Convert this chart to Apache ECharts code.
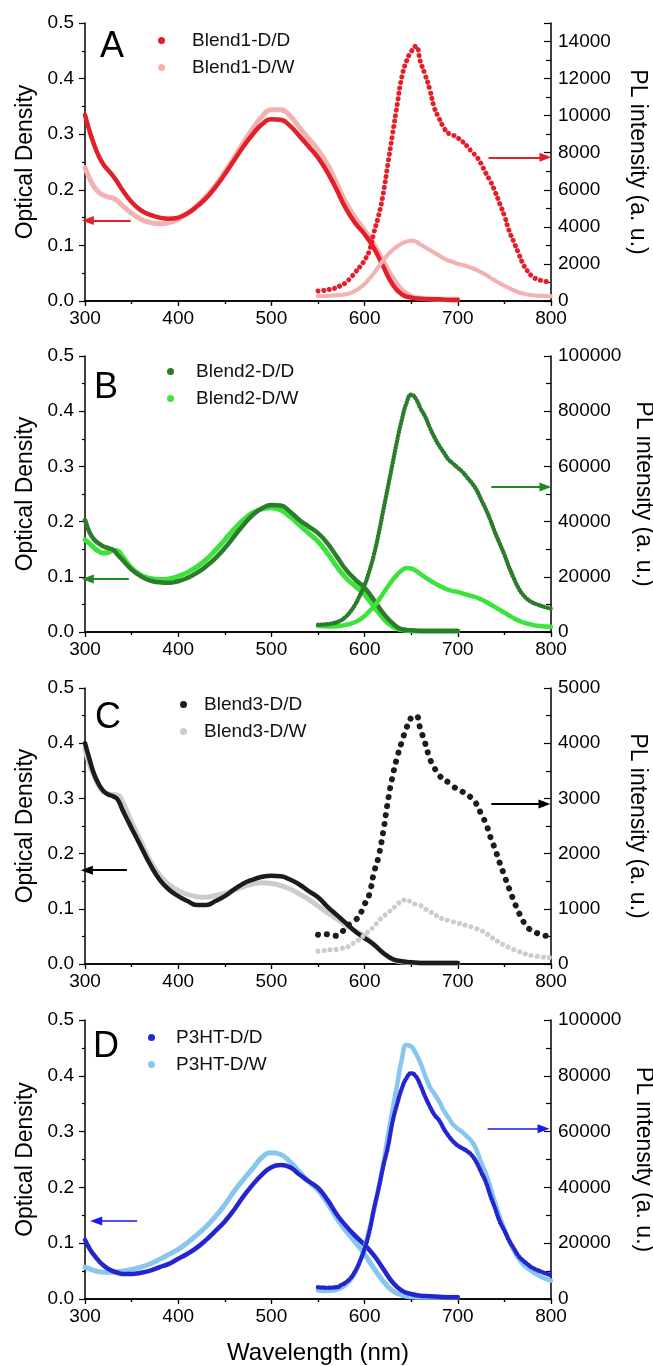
<!DOCTYPE html>
<html><head><meta charset="utf-8">
<script src="https://cdn.jsdelivr.net/npm/echarts@6/dist/echarts.min.js"></script>
<style>html,body{margin:0;padding:0;background:#fff;overflow:hidden}#c{width:653px;height:1366px}</style>
</head><body><div id="c"></div>
<script>
// ---------- data ----------
const wlAbs = [300,305,310,315,320,325,330,335,340,350,360,370,380,390,400,410,420,430,440,450,460,470,480,490,500,510,520,530,540,550,560,570,580,590,600,610,620,630,640,650,660,670,680,690,700];
const wlPL = [550,555,560,565,570,575,580,585,590,595,600,605,610,615,620,625,630,635,640,645,650,655,660,665,670,675,680,685,690,695,700,705,710,715,720,725,730,735,740,745,750,755,760,765,770,775,780,785,790,795,800];

const absA_DD = [0.335,0.305,0.28,0.26,0.245,0.235,0.225,0.213,0.2,0.178,0.163,0.155,0.15,0.148,0.15,0.158,0.17,0.185,0.205,0.228,0.253,0.278,0.3,0.318,0.327,0.326,0.315,0.297,0.278,0.258,0.232,0.2,0.166,0.14,0.12,0.095,0.062,0.03,0.012,0.006,0.004,0.003,0.003,0.002,0.002];
const absA_DW = [0.24,0.22,0.205,0.195,0.19,0.187,0.185,0.18,0.172,0.158,0.147,0.141,0.139,0.141,0.147,0.157,0.171,0.188,0.208,0.232,0.258,0.285,0.31,0.332,0.344,0.344,0.333,0.312,0.292,0.272,0.246,0.212,0.177,0.15,0.127,0.102,0.072,0.042,0.02,0.009,0.005,0.004,0.003,0.003,0.003];
const plA_DD = [540,560,600,650,720,850,1000,1250,1550,1850,2200,2700,3700,4600,5800,7400,9000,10600,12100,12950,13450,13750,12900,12200,11400,10400,9850,9350,9050,8950,8800,8600,8350,8050,7800,7400,6900,6450,5900,5250,4600,3800,3200,2600,2000,1600,1320,1180,1100,1050,1000];
const plA_DW = [270,270,280,290,310,330,370,430,550,720,920,1200,1500,1850,2200,2500,2750,2950,3100,3200,3250,3200,3050,2900,2750,2600,2450,2300,2180,2100,2000,1950,1870,1780,1680,1550,1420,1250,1100,950,820,700,580,480,400,350,310,290,280,270,260];

const absB_DD = [0.203,0.18,0.167,0.16,0.155,0.152,0.149,0.14,0.131,0.113,0.101,0.093,0.09,0.089,0.092,0.098,0.107,0.119,0.134,0.152,0.173,0.194,0.212,0.224,0.23,0.229,0.218,0.203,0.191,0.179,0.161,0.137,0.113,0.095,0.08,0.058,0.034,0.016,0.005,0.003,0.002,0.002,0.002,0.002,0.002];
const absB_DW = [0.167,0.16,0.152,0.146,0.143,0.144,0.148,0.147,0.137,0.116,0.103,0.097,0.095,0.096,0.101,0.108,0.118,0.131,0.148,0.167,0.186,0.203,0.216,0.223,0.225,0.221,0.209,0.194,0.179,0.164,0.143,0.119,0.098,0.083,0.068,0.046,0.025,0.01,0.004,0.002,0.002,0.002,0.002,0.002,0.002];
const plB_DD = [2600,2700,2800,3100,3500,4300,5600,7500,10000,13300,17000,22000,28000,35500,44000,52500,61000,69500,77000,83000,86000,84500,81000,78000,74000,70500,67500,65000,62500,61000,59500,58000,56000,54000,51500,48000,44500,40500,36000,32000,28000,23500,19500,16000,13500,11800,10700,10000,9400,8900,8400];
const plB_DW = [2200,2100,2000,2000,2100,2300,2600,3000,3600,4500,5800,7500,9200,11500,14000,16500,18800,20800,22300,23200,23000,22200,21000,19800,18700,17700,16800,16000,15300,14800,14500,14000,13500,13000,12500,11800,11000,10000,9000,8000,7000,6000,5000,4200,3500,3000,2600,2300,2100,2000,1900];

const absC_DD = [0.4,0.37,0.343,0.325,0.313,0.307,0.304,0.298,0.28,0.246,0.213,0.18,0.153,0.135,0.123,0.114,0.107,0.107,0.114,0.123,0.135,0.146,0.153,0.158,0.16,0.159,0.153,0.144,0.132,0.121,0.104,0.089,0.074,0.059,0.047,0.035,0.02,0.009,0.005,0.003,0.002,0.002,0.002,0.002,0.002];
const absC_DW = [0.39,0.36,0.34,0.322,0.312,0.308,0.307,0.306,0.295,0.257,0.222,0.187,0.161,0.144,0.133,0.126,0.122,0.121,0.124,0.128,0.134,0.14,0.145,0.147,0.146,0.142,0.136,0.127,0.117,0.105,0.093,0.082,0.07,0.06,0.05,0.036,0.02,0.008,0.004,0.003,0.002,0.002,0.002,0.002,0.002];
const plC_DD = [530,520,540,520,510,560,680,730,790,900,1080,1260,1650,1950,2400,2950,3400,3750,4030,4280,4460,4500,4250,4000,3720,3550,3420,3340,3290,3220,3160,3120,3070,3000,2900,2720,2550,2300,2080,1830,1600,1370,1150,950,780,660,600,560,530,510,500];
const plC_DW = [230,240,250,260,265,280,300,340,400,450,530,600,680,780,860,930,1000,1080,1140,1165,1120,1080,1060,1000,950,900,850,810,790,765,740,720,690,670,640,610,560,500,440,390,340,300,260,230,200,170,150,140,130,120,115];

const absD_DD = [0.106,0.09,0.078,0.068,0.06,0.054,0.05,0.047,0.045,0.045,0.047,0.051,0.057,0.063,0.072,0.081,0.092,0.106,0.122,0.139,0.16,0.184,0.205,0.223,0.236,0.24,0.236,0.223,0.211,0.199,0.178,0.152,0.131,0.113,0.097,0.078,0.054,0.03,0.015,0.009,0.006,0.005,0.004,0.003,0.003];
const absD_DW = [0.057,0.054,0.051,0.049,0.048,0.048,0.048,0.049,0.05,0.053,0.057,0.063,0.071,0.08,0.089,0.101,0.115,0.13,0.148,0.169,0.193,0.214,0.234,0.254,0.262,0.259,0.246,0.228,0.21,0.195,0.172,0.145,0.122,0.102,0.08,0.055,0.032,0.015,0.007,0.004,0.003,0.003,0.003,0.003,0.003];
const plD_DD = [4200,4100,4000,4100,4200,5000,6000,7500,10000,13500,18000,24000,32300,39500,47500,54500,63500,70000,75500,79200,80900,79800,76500,72500,69000,66000,64000,61000,58500,56500,55000,54000,53000,51500,49000,45500,42000,37000,32500,27800,24500,21000,18200,15500,13800,12400,11200,10400,9700,9100,8500];
const plD_DW = [3000,2900,2900,3000,3300,4000,5200,7000,9500,13500,18500,25000,31500,40000,48500,58500,68000,77000,86000,91000,90500,88000,84500,80000,76000,73500,70800,67500,65000,62500,61000,59800,58200,56500,53500,49000,45000,40000,34500,29500,25000,21000,17500,14500,12500,11000,9800,8700,7800,7100,6600];

const panelLetters = ['A','B','C','D'];
const legendNames = [['Blend1-D/D','Blend1-D/W'],['Blend2-D/D','Blend2-D/W'],['Blend3-D/D','Blend3-D/W'],['P3HT-D/D','P3HT-D/W']];
const rightMax = [15000,100000,5000,100000];
const rightStep = [2000,20000,1000,20000];
// arrow annotations (data coords): [x1,y1,x2,y2]
const arrowsLeft = [[349,0.145,303,0.145],[347,0.096,303,0.096],[345,0.17,302,0.17],[356,0.14,312,0.14]];
const arrowsRight = [[733,7750,794,7750],[736,52500,794,52500],[736,2900,793,2900],[732,61000,792,61000]];

// ---------- styling ----------
const FONT = 'Liberation Sans, Arial, sans-serif';
const grids = [
  {top:23,height:278},{top:356,height:276},{top:688,height:276},{top:1020,height:279}
];
const colors = [
  {dd:'#e3202a', dw:'#f3b2b2', arrow:'#e3202a'},
  {dd:'#2c7c2c', dw:'#3de33d', arrow:'#1f8a1f'},
  {dd:'#1c1c1c', dw:'#cccccc', arrow:'#000000'},
  {dd:'#2525cf', dw:'#86c6ef', arrow:'#1a1aee'}
];
const plStyle = [
  {dd:{w:5,dash:[0.1,5.5]}, dw:{w:4.5,dash:[0.1,3]}},
  {dd:{w:4.5,dash:[0.1,3]}, dw:{w:4.5,dash:null}},
  {dd:{w:6,dash:[0.1,9]}, dw:{w:5,dash:[0.1,6]}},
  {dd:{w:4.5,dash:[0.1,2.5]}, dw:{w:4.5,dash:null}}
];
const arrowWidth = [2,2,2,1.5];
const legendPos = [
  {left:158,top:31,pad:22},{left:167,top:362,pad:17},{left:180,top:695,pad:12},{left:148,top:1028,pad:16}
];
const letterPos = [{left:100,top:29},{left:94,top:370},{left:95,top:700},{left:93,top:1029}];

const absData = [[absA_DD,absA_DW],[absB_DD,absB_DW],[absC_DD,absC_DW],[absD_DD,absD_DW]];
const plData = [[plA_DD,plA_DW],[plB_DD,plB_DW],[plC_DD,plC_DW],[plD_DD,plD_DW]];

function pairs(xs, ys){ return xs.map((x,i)=>[x,ys[i]]); }

const option = {
  animation:false,
  backgroundColor:'#fff',
  textStyle:{fontFamily:FONT},
  grid:[], xAxis:[], yAxis:[], series:[], legend:[], title:[]
};

const axisLine = {show:true, lineStyle:{color:'#000', width:1.5}};
for(let i=0;i<4;i++){
  option.grid.push({left:85, right:102, top:grids[i].top, height:grids[i].height, containLabel:false, outerBoundsMode:'none'});
  // bottom x
  option.xAxis.push({type:'value', gridIndex:i, position:'bottom', min:300, max:800, interval:100,
    axisLine, axisTick:{show:true, length:5, lineStyle:{color:'#000',width:1.2}},
    minorTick:{show:true, splitNumber:2, length:3, lineStyle:{color:'#000',width:1.2}},
    splitLine:{show:false}, minorSplitLine:{show:false},
    axisLabel:{fontSize:19, color:'#000', margin:8, fontFamily:FONT},
    name: i===3 ? 'Wavelength (nm)' : '', nameLocation:'middle', nameGap:42,
    nameTextStyle:{fontSize:24, color:'#000', fontFamily:FONT}
  });
  // top x
  option.xAxis.push({type:'value', gridIndex:i, position:'top', min:300, max:800, interval:100,
    axisLine, axisTick:{show:true, inside:true, length:4, lineStyle:{color:'#000',width:1.2}},
    minorTick:{show:true, splitNumber:2, length:3, lineStyle:{color:'#000',width:1.2}},
    splitLine:{show:false}, axisLabel:{show:false}
  });
  // left y
  option.yAxis.push({type:'value', gridIndex:i, position:'left', min:0, max:0.5, interval:0.1,
    axisLine, axisTick:{show:true, length:6, lineStyle:{color:'#000',width:1.2}},
    minorTick:{show:true, splitNumber:2, length:3, lineStyle:{color:'#000',width:1.2}},
    splitLine:{show:false},
    axisLabel:{fontSize:19, color:'#000', margin:11, fontFamily:FONT, formatter:v=>v.toFixed(1)},
    name:'Optical Density', nameLocation:'middle', nameGap:47,
    nameTextStyle:{fontSize:23, color:'#000', fontFamily:FONT}
  });
  // right y
  const step = rightStep[i];
  option.yAxis.push({type:'value', gridIndex:i, position:'right', min:0, max:rightMax[i], interval:step,
    axisLine, axisTick:{show:true, inside:true, length:7, lineStyle:{color:'#000',width:1.2}},
    minorTick:{show:true, splitNumber:2, length:5, lineStyle:{color:'#000',width:1.2}},
    splitLine:{show:false},
    axisLabel:{fontSize:19, color:'#000', margin:7, fontFamily:FONT,
      formatter:v=> (Math.round(v) % step === 0 ? String(Math.round(v)) : '')},
    name:'PL intensity (a. u.)', nameLocation:'middle', nameGap:75, nameRotate:-90,
    nameTextStyle:{fontSize:23, color:'#000', fontFamily:FONT}
  });

  const c = colors[i];
  const names = legendNames[i];
  const xi = i*2, yl = i*2, yr = i*2+1;
  const absLine = (data, color, w, name, extra) => Object.assign({
    type:'line', name, xAxisIndex:xi, yAxisIndex:yl, data, showSymbol:false, symbol:'circle',
    smooth:0.5, itemStyle:{color},
    lineStyle:{color, width:w, cap:'round', join:'round'}, z:2
  }, extra||{});
  const plLine = (data, color, st, name, extra) => Object.assign({
    type:'line', name, xAxisIndex:xi, yAxisIndex:yr, data, showSymbol:false, symbol:'circle',
    smooth:0.5, itemStyle:{color},
    lineStyle:{color, width:st.w, cap:'round', join:'round', type: st.dash ? st.dash : 'solid'}, z:3
  }, extra||{});

  const al = arrowsLeft[i], ar = arrowsRight[i];
  const mk = (a) => ({silent:true, symbol:['none','triangle'], symbolSize:[9,12], label:{show:false},
      lineStyle:{color:c.arrow, width:arrowWidth[i], type:'solid'},
      data:[[{coord:[a[0],a[1]]},{coord:[a[2],a[3]]}]]});
  option.series.push(absLine(pairs(wlAbs, absData[i][1]), c.dw, 5, names[1]));
  option.series.push(absLine(pairs(wlAbs, absData[i][0]), c.dd, 4.5, names[0], {markLine:mk(al)}));
  option.series.push(plLine(pairs(wlPL, plData[i][1]), c.dw, plStyle[i].dw, names[1]));
  option.series.push(plLine(pairs(wlPL, plData[i][0]), c.dd, plStyle[i].dd, names[0], {markLine:mk(ar)}));

  option.legend.push({
    data:[{name:names[0], icon:'circle', itemStyle:{color:c.dd}}, {name:names[1], icon:'circle', itemStyle:{color:c.dw}}],
    orient:'vertical', left:legendPos[i].left, top:legendPos[i].top, itemWidth:7, itemHeight:7, itemGap:8,
    padding:0, selectedMode:false,
    textStyle:{fontSize:19, color:'#111', fontFamily:FONT, padding:[0,0,0,legendPos[i].pad]}
  });
  option.title.push({text:panelLetters[i], left:letterPos[i].left, top:letterPos[i].top, padding:0,
    textStyle:{fontSize:36, fontWeight:'normal', color:'#000', fontFamily:FONT}});
}

const chart = echarts.init(document.getElementById('c'), null, {renderer:'canvas'});
chart.setOption(option);
</script>
</body></html>
